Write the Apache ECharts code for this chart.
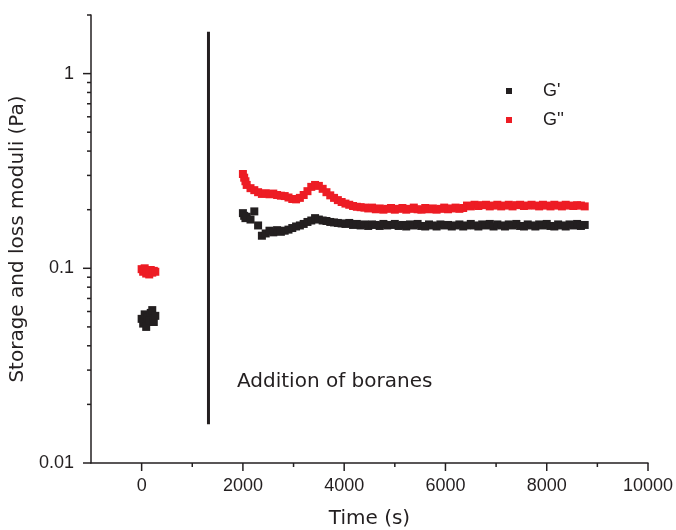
<!DOCTYPE html>
<html>
<head>
<meta charset="utf-8">
<script src="https://cdn.jsdelivr.net/npm/echarts@6/dist/echarts.min.js"></script>
<style>
html,body{margin:0;padding:0;background:#fff;}
#chart{width:676px;height:530px;}
</style>
</head>
<body>
<div id="chart"></div>
<script>
// ---- data ----
const seriesNames = ["G'", "G''"];
const timeInitial = [0, 30, 60, 90, 120, 150, 180, 210, 240, 270];
const gPrimeInitial = [0.055, 0.052, 0.058, 0.050, 0.056, 0.054, 0.059, 0.061, 0.053, 0.057];
const gDoublePrimeInitial = [0.099, 0.096, 0.100, 0.094, 0.097, 0.093, 0.098, 0.095, 0.097, 0.096];

const time = [2000,2025,2050,2075,2150,2225,2300,2375,2450,2525,2600,2675,2750,2825,2900,2975,
  3050,3125,3200,3275,3350,3425,3500,3575,3650,3725,3800,3875,3950,
  4025,4100,4175,4250,4325,4400,4475,4550,4625,4700,4775,4850,4925,
  5000,5075,5150,5225,5300,5375,5450,5525,5600,5675,5750,5825,5900,5975,
  6050,6125,6200,6275,6350,6425,6500,6575,6650,6725,6800,6875,6950,
  7025,7100,7175,7250,7325,7400,7475,7550,7625,7700,7775,7850,7925,
  8000,8075,8150,8225,8300,8375,8450,8525,8600,8675,8750];

const gDoublePrime = [0.305,0.292,0.280,0.268,0.258,0.252,0.246,0.241,0.243,0.240,0.242,0.238,0.236,0.235,0.231,0.227,
  0.226,0.230,0.238,0.249,0.262,0.268,0.265,0.256,0.246,0.237,0.230,0.224,0.219,
  0.215,0.212,0.209,0.207,0.206,0.205,0.203,0.205,0.201,0.203,0.200,0.202,0.204,
  0.200,0.202,0.204,0.200,0.202,0.205,0.201,0.200,0.204,0.201,0.203,0.200,0.202,0.205,
  0.201,0.203,0.205,0.202,0.204,0.210,0.208,0.212,0.209,0.211,0.212,0.208,0.210,
  0.212,0.208,0.210,0.212,0.208,0.211,0.212,0.209,0.210,0.212,0.210,0.208,0.212,
  0.210,0.208,0.212,0.210,0.208,0.212,0.210,0.209,0.211,0.210,0.208];

const gPrime = [0.192,0.186,0.181,0.184,0.178,0.196,0.166,0.147,0.151,0.156,0.153,0.157,0.154,0.156,0.158,0.161,
  0.164,0.166,0.169,0.173,0.176,0.181,0.178,0.176,0.175,0.173,0.172,0.171,0.170,
  0.169,0.171,0.167,0.169,0.166,0.168,0.165,0.168,0.167,0.165,0.169,0.166,0.167,
  0.169,0.165,0.167,0.164,0.168,0.166,0.169,0.165,0.164,0.168,0.166,0.164,0.168,0.166,
  0.167,0.164,0.166,0.168,0.164,0.166,0.169,0.166,0.164,0.168,0.166,0.169,0.164,
  0.168,0.166,0.164,0.168,0.166,0.169,0.165,0.164,0.168,0.166,0.164,0.168,0.166,
  0.169,0.165,0.164,0.168,0.166,0.164,0.168,0.166,0.169,0.165,0.167];

const additionTime = 1320;
const additionRange = [0.0158, 1.64];
const annotationText = 'Addition of boranes';

const xMin = -1000, xMax = 10000, xStep = 1000;
const yMin = 0.01, yMax = 2;
const xMajorTicks = [0, 2000, 4000, 6000, 8000, 10000];
const xMinorTicks = [1000, 3000, 5000, 7000, 9000];
const yMajorTicks = [0.01, 0.1, 1];
const yMinorTicks = [0.02,0.03,0.04,0.05,0.06,0.07,0.08,0.09,0.2,0.3,0.4,0.5,0.6,0.7,0.8,0.9,2];

// ---- build ----
const zip = (xs, ys) => xs.map((x, i) => [x, ys[i]]);
const BLACK = '#231f20', RED = '#ed1c24';
const FONT = "'Liberation Sans', Arial, sans-serif";
const TITLE_FONT = "'DejaVu Sans', 'Liberation Sans', sans-serif";

const tickData = [];
xMajorTicks.forEach(v => tickData.push([v, yMin, 8, 0]));
xMinorTicks.forEach(v => tickData.push([v, yMin, 4, 0]));
yMajorTicks.forEach(v => tickData.push([xMin, v, 8, 1]));
yMinorTicks.forEach(v => tickData.push([xMin, v, 4, 1]));

const chart = echarts.init(document.getElementById('chart'), null, {renderer: 'canvas'});
chart.setOption({
  animation: false,
  backgroundColor: '#fff',
  textStyle: {fontFamily: FONT},
  grid: {left: 91, right: 28, top: 15, bottom: 67, containLabel: false, outerBoundsMode: 'none'},
  legend: {
    data: seriesNames,
    orient: 'vertical',
    left: 501, top: 76,
    itemWidth: 6, itemHeight: 6, itemGap: 9,
    icon: 'rect',
    itemStyle: {opacity: 1},
    textStyle: {fontSize: 18, color: BLACK, fontFamily: FONT, lineHeight: 20, padding: [0, 0, 0, 26]}
  },
  xAxis: {
    type: 'value', min: xMin, max: xMax, interval: xStep,
    name: 'Time (s)', nameLocation: 'middle', nameGap: 46,
    nameTextStyle: {fontSize: 20, color: BLACK, fontFamily: TITLE_FONT},
    axisLine: {onZero: false, lineStyle: {color: BLACK, width: 1.5}},
    axisTick: {show: false},
    splitLine: {show: false},
    axisLabel: {
      fontSize: 18, color: BLACK, margin: 14, fontFamily: FONT,
      formatter: v => (v >= 0 && v % 2000 === 0) ? String(v) : ''
    }
  },
  yAxis: {
    type: 'log', logBase: 10, min: yMin, max: yMax,
    name: 'Storage and loss moduli (Pa)', nameLocation: 'middle', nameGap: 55,
    nameTextStyle: {fontSize: 20, color: BLACK, fontFamily: TITLE_FONT},
    axisLine: {show: true, onZero: false, lineStyle: {color: BLACK, width: 1.5}},
    axisTick: {show: false},
    splitLine: {show: false},
    minorSplitLine: {show: false},
    axisLabel: {
      fontSize: 18, color: BLACK, margin: 17, fontFamily: FONT,
      formatter: v => {
        const l = Math.log10(v);
        if (Math.abs(l - Math.round(l)) > 1e-6) return '';
        return String(Number(Math.pow(10, Math.round(l)).toPrecision(6)));
      }
    }
  },
  graphic: [{
    type: 'text', left: 237, top: 372, z: 10,
    style: {text: annotationText, fontSize: 20, fill: BLACK, fontFamily: TITLE_FONT}
  }],
  series: [
    {
      name: seriesNames[0], type: 'scatter', symbol: 'rect', symbolSize: 8,
      itemStyle: {color: BLACK, opacity: 1},
      data: zip(timeInitial, gPrimeInitial).concat(zip(time, gPrime))
    },
    {
      name: seriesNames[1], type: 'scatter', symbol: 'rect', symbolSize: 8,
      itemStyle: {color: RED, opacity: 1},
      data: zip(timeInitial, gDoublePrimeInitial).concat(zip(time, gDoublePrime))
    },
    {
      name: 'addition', type: 'line', symbol: 'none', silent: true,
      lineStyle: {color: BLACK, width: 3},
      data: [[additionTime, additionRange[0]], [additionTime, additionRange[1]]]
    },
    {
      name: 'ticks', type: 'custom', silent: true, clip: false, z: 5,
      data: tickData,
      renderItem: (params, api) => {
        const p = api.coord([api.value(0), api.value(1)]);
        const len = api.value(2);
        const kind = api.value(3);
        const shape = kind === 0
          ? {x1: p[0], y1: p[1], x2: p[0], y2: p[1] + len}
          : {x1: p[0] - len, y1: p[1], x2: p[0], y2: p[1]};
        return {type: 'line', shape, style: {stroke: BLACK, lineWidth: 1.5}};
      }
    }
  ]
});
</script>
</body>
</html>
